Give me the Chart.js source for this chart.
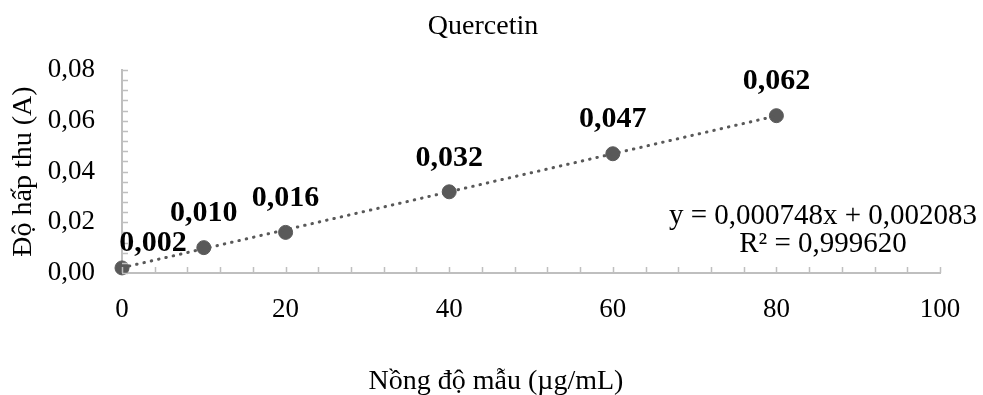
<!DOCTYPE html>
<html>
<head>
<meta charset="utf-8">
<script src="https://cdn.jsdelivr.net/npm/chart.js@4.4.0/dist/chart.umd.min.js"></script>
<style>
    html, body { margin: 0; padding: 0; background: #fff; }
    #quercetinChart { display: block; }
</style>
</head>
<body>
<canvas id="quercetinChart" width="983" height="395"></canvas>
<script>
// nồng độ mẫu (µg/mL) và độ hấp thu (A)
const concentrations = [0, 10, 20, 40, 60, 80];
const absorbances = [0.002, 0.010, 0.016, 0.032, 0.047, 0.062];
const pointLabels = ["0,002", "0,010", "0,016", "0,032", "0,047", "0,062"];

// trendline ends
const trendX = [0, 80];
const trendY = [0.002083, 0.061923];
const equationLines = ["y = 0,000748x + 0,002083", "R² = 0,999620"];

const xTicks = [0, 20, 40, 60, 80, 100];
const yTicks = [0, 0.02, 0.04, 0.06, 0.08];

const serif = "'Liberation Serif', 'Times New Roman', serif";
const axisGray = "#bfbfbf";
const markGray = "#595959";

const decorPlugin = {
    id: "decor",
    afterDraw(chart) {
        const ctx = chart.ctx;
        const xs = chart.scales.x;
        const ys = chart.scales.y;

        // minor tick marks, drawn inside the plot
        ctx.save();
        ctx.strokeStyle = axisGray;
        ctx.lineWidth = 1.5;
        ctx.beginPath();
        for (let v = 0; v <= 100; v += 4) {
            const px = Math.round(xs.getPixelForValue(v)) + 0.5;
            ctx.moveTo(px, ys.bottom);
            ctx.lineTo(px, ys.bottom - 6);
        }
        for (let i = 0; i <= 20; i++) {
            const py = Math.round(ys.getPixelForValue(i * 0.004)) + 0.5;
            ctx.moveTo(xs.left, py);
            ctx.lineTo(xs.left + 6, py);
        }
        ctx.stroke();

        ctx.fillStyle = "#000";
        ctx.textAlign = "center";
        ctx.textBaseline = "middle";

        // chart title
        ctx.font = "28px " + serif;
        ctx.fillText("Quercetin", 483, 27);

        // point value labels
        const meta = chart.getDatasetMeta(1);
        ctx.font = "bold 30px " + serif;
        meta.data.forEach((pt, i) => {
            if (i === 0) {
                ctx.fillText(pointLabels[i], pt.x + 31, pt.y - 25);
            } else {
                ctx.fillText(pointLabels[i], pt.x, pt.y - 34);
            }
        });

        // trendline equation
        ctx.font = "29px " + serif;
        ctx.fillText(equationLines[0], 823, 216);
        ctx.fillText(equationLines[1], 823, 244);

        // x axis title
        ctx.font = "28px " + serif;
        ctx.fillText("Nồng độ mẫu (µg/mL)", 496, 382);
        ctx.restore();
    },
};

function renderQuercetinChart() {
    const ctx = document.getElementById("quercetinChart").getContext("2d");

    new Chart(ctx, {
        type: "scatter",
        data: {
            datasets: [
                {
                    type: "line",
                    label: "Trendline",
                    data: trendX.map((x, i) => ({ x: x, y: trendY[i] })),
                    borderColor: markGray,
                    borderWidth: 3,
                    borderDash: [0.5, 7],
                    borderCapStyle: "round",
                    pointRadius: 0,
                    fill: false,
                    clip: false,
                },
                {
                    label: "Quercetin",
                    data: concentrations.map((x, i) => ({ x: x, y: absorbances[i] })),
                    backgroundColor: markGray,
                    borderColor: markGray,
                    pointRadius: 7,
                    pointHoverRadius: 7,
                    clip: false,
                },
            ],
        },
        options: {
            responsive: false,
            animation: false,
            events: [],
            layout: {
                padding: { left: 0, right: 43, top: 70, bottom: 0 },
            },
            plugins: {
                legend: { display: false },
                tooltip: { enabled: false },
                title: { display: false },
            },
            scales: {
                x: {
                    type: "linear",
                    min: 0,
                    max: 100,
                    afterFit: (scale) => { scale.height = 122; },
                    afterBuildTicks: (scale) => { scale.ticks = xTicks.map((v) => ({ value: v })); },
                    grid: { display: true, drawOnChartArea: false, drawTicks: false },
                    border: { color: axisGray, width: 2 },
                    ticks: {
                        color: "#000",
                        padding: 21,
                        maxRotation: 0,
                        font: { family: serif, size: 27 },
                    },
                },
                y: {
                    type: "linear",
                    min: 0,
                    max: 0.08,
                    afterFit: (scale) => { scale.width = 122; },
                    afterBuildTicks: (scale) => { scale.ticks = yTicks.map((v) => ({ value: v })); },
                    grid: { display: true, drawOnChartArea: false, drawTicks: false },
                    border: { color: axisGray, width: 2 },
                    ticks: {
                        color: "#000",
                        padding: 27,
                        font: { family: serif, size: 27 },
                        callback: (v) => v.toFixed(2).replace(".", ","),
                    },
                    title: {
                        display: true,
                        text: "Độ hấp thu (A)",
                        color: "#000",
                        font: { family: serif, size: 28 },
                        padding: { top: 7, bottom: 0 },
                    },
                },
            },
        },
        plugins: [decorPlugin],
    });
}

document.addEventListener("DOMContentLoaded", renderQuercetinChart);
</script>
</body>
</html>
